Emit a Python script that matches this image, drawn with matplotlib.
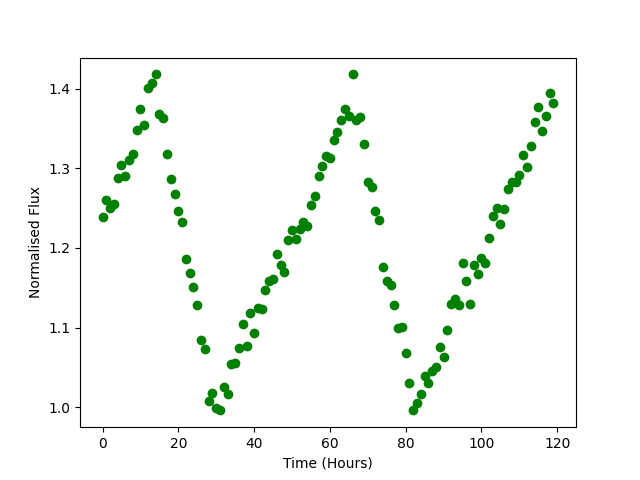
import numpy as np
import matplotlib
matplotlib.use("Agg")
import matplotlib.pyplot as plt

time_hours = list(range(120))
flux = [
    1.239, 1.260, 1.250, 1.255, 1.288, 1.304, 1.290, 1.310, 1.318, 1.348,
    1.374, 1.354, 1.401, 1.407, 1.418, 1.368, 1.363, 1.318, 1.286, 1.268,
    1.247, 1.232, 1.186, 1.168, 1.151, 1.128, 1.085, 1.073, 1.008, 1.018,
    0.999, 0.996, 1.025, 1.016, 1.054, 1.055, 1.074, 1.104, 1.077, 1.118,
    1.093, 1.124, 1.123, 1.147, 1.158, 1.161, 1.192, 1.178, 1.170, 1.210,
    1.223, 1.211, 1.224, 1.233, 1.228, 1.254, 1.265, 1.290, 1.303, 1.315,
    1.313, 1.335, 1.346, 1.361, 1.375, 1.366, 1.418, 1.361, 1.364, 1.330,
    1.283, 1.276, 1.247, 1.235, 1.176, 1.158, 1.154, 1.128, 1.099, 1.101,
    1.068, 1.030, 0.997, 1.005, 1.016, 1.039, 1.030, 1.045, 1.051, 1.076,
    1.063, 1.097, 1.130, 1.136, 1.128, 1.181, 1.158, 1.130, 1.179, 1.167,
    1.188, 1.181, 1.213, 1.240, 1.250, 1.230, 1.249, 1.274, 1.283, 1.283,
    1.292, 1.317, 1.302, 1.328, 1.358, 1.377, 1.347, 1.366, 1.395, 1.382,
]

fig, ax = plt.subplots(figsize=(6.4, 4.8), dpi=100)
ax.plot(time_hours, flux, 'o', color='green')
ax.set_xlabel('Time (Hours)')
ax.set_ylabel('Normalised Flux')
fig.savefig('out.png', dpi=100)
